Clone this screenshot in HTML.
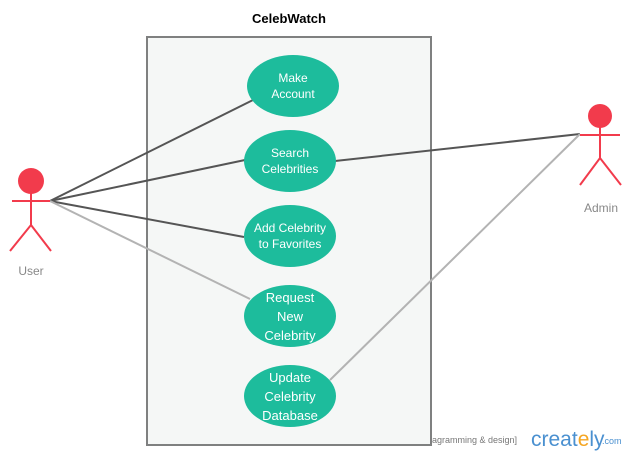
<!DOCTYPE html>
<html><head><style>body{margin:0;background:#fff}svg{display:block}</style></head><body>
<svg width="630" height="455" xmlns="http://www.w3.org/2000/svg" font-family="Liberation Sans, sans-serif">
<rect x="147" y="37" width="284" height="408" fill="#f5f7f6" stroke="#7f8080" stroke-width="2"/>
<text x="289" y="23" text-anchor="middle" font-size="13" font-weight="bold">CelebWatch</text>
<g stroke-width="2" fill="none">
<line x1="50" y1="201" x2="253" y2="100" stroke="#555"/>
<line x1="50" y1="201" x2="245" y2="160" stroke="#555"/>
<line x1="50" y1="201" x2="244" y2="237" stroke="#555"/>
<line x1="50" y1="201" x2="250" y2="299" stroke="#b3b3b3"/>
<line x1="580" y1="134" x2="335" y2="161" stroke="#555"/>
<line x1="580" y1="134" x2="330" y2="380" stroke="#b3b3b3"/>
</g>
<g fill="#1dbc9c">
<ellipse cx="293" cy="86" rx="46" ry="31"/>
<ellipse cx="290" cy="161" rx="46" ry="31"/>
<ellipse cx="290" cy="236" rx="46" ry="31"/>
<ellipse cx="290" cy="316" rx="46" ry="31"/>
<ellipse cx="290" cy="396" rx="46" ry="31"/>
</g>
<g fill="#fff" text-anchor="middle" font-size="12">
<text x="293" y="82">Make</text><text x="293" y="98">Account</text>
<text x="290" y="157">Search</text><text x="290" y="173">Celebrities</text>
<text x="290" y="232">Add Celebrity</text><text x="290" y="248">to Favorites</text>
<g font-size="13"><text x="290" y="302">Request</text><text x="290" y="321">New</text><text x="290" y="340">Celebrity</text>
<text x="290" y="382">Update</text><text x="290" y="401">Celebrity</text><text x="290" y="420">Database</text></g>
</g>
<g stroke="#f23b4c" stroke-width="2" fill="none">
<line x1="31" y1="190" x2="31" y2="225"/><line x1="12" y1="201" x2="50" y2="201"/>
<polyline points="10,251 31,225 51,251"/>
<line x1="600" y1="124" x2="600" y2="158"/><line x1="580" y1="135" x2="620" y2="135"/>
<polyline points="580,185 600,158 621,185"/>
</g>
<circle cx="31" cy="181" r="13" fill="#f23b4c"/>
<circle cx="600" cy="116" r="12" fill="#f23b4c"/>
<text x="31" y="275" text-anchor="middle" font-size="12" fill="#888">User</text>
<text x="601" y="212" text-anchor="middle" font-size="12" fill="#888">Admin</text>
<text x="432" y="443" font-size="9" fill="#777">agramming &amp; design]</text>
<text x="531" y="446" font-size="21" fill="#4a90d0">creat<tspan fill="#f5a623">e</tspan>ly</text>
<text x="602" y="444" font-size="9" fill="#4a90d0">.com</text>
</svg>
</body></html>
